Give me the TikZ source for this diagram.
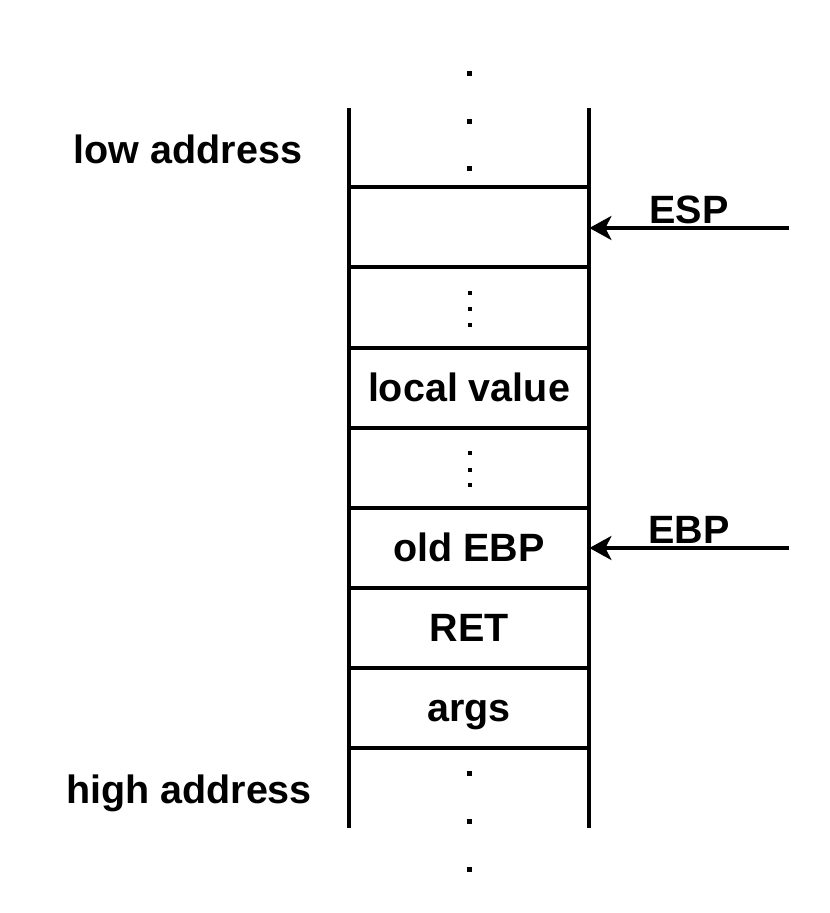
\documentclass[tikz,border=0pt]{standalone}
\usepackage{fontspec}
\setmainfont{Liberation Sans}
\usetikzlibrary{arrows.meta}

\begin{document}
\begin{tikzpicture}[
    x=0.5pt,y=-0.5pt,line/.style={line width=1.75pt, black},
    txt/.style={font=\bfseries\fontsize{19.75}{24}\selectfont, inner sep=0pt, text height=0.72em, text depth=0pt, yshift=-3pt},
    cell/.style={txt, minimum width=120pt, minimum height=40pt},
    ptr/.style={line, -{Stealth[length=11pt, width=12pt, inset=3pt]}}
    ]
    \useasboundingbox (0, 0) rectangle (829, 913);
    % stack cells
    \node[cell] (top) at (469, 227) {};
    \node[cell] (gapa) at (469, 307.5) {};
    \node[cell] (local) at (469, 388) {local value};
    \node[cell] (gapb) at (469, 468) {};
    \node[cell] (oldebp) at (469, 548) {old EBP};
    \node[cell] (ret) at (469, 628) {RET};
    \node[cell] (args) at (469, 708) {args};
    % walls and separators
    \draw[line] (349, 108) -- (349, 828);
    \draw[line] (589, 108) -- (589, 828);
    \draw[line] (349, 187) -- (589, 187);
    \draw[line] (349, 267) -- (589, 267);
    \draw[line] (349, 348) -- (589, 348);
    \draw[line] (349, 428) -- (589, 428);
    \draw[line] (349, 508) -- (589, 508);
    \draw[line] (349, 588) -- (589, 588);
    \draw[line] (349, 668) -- (589, 668);
    \draw[line] (349, 748) -- (589, 748);
    % dots
    \fill (467, 71) rectangle (472, 76);
    \fill (467, 119) rectangle (472, 124);
    \fill (467, 166) rectangle (472, 171);
    \fill (467, 771) rectangle (472, 776);
    \fill (467, 819) rectangle (472, 824);
    \fill (467, 867) rectangle (472, 872);
    \fill (467.5, 291) rectangle (471.5, 295);
    \fill (467.5, 307.5) rectangle (471.5, 311.5);
    \fill (467.5, 323) rectangle (471.5, 327);
    \fill (467.5, 451) rectangle (471.5, 455);
    \fill (467.5, 467.5) rectangle (471.5, 471.5);
    \fill (467.5, 483) rectangle (471.5, 487);
    % addresses
    \node[txt] (low) at (188, 150) {low address};
    \node[txt] (high) at (189, 790) {high address};
    % pointers
    \coordinate (espin) at (789, 228);
    \coordinate (ebpin) at (789, 548);
    \node[txt] (esplbl) at (689, 210) {ESP};
    \node[txt] (ebplbl) at (689, 530) {EBP};
    \draw[ptr] (espin) -- (espin -| top.east);
    \draw[ptr] (ebpin) -- (ebpin -| oldebp.east);
\end{tikzpicture}
\end{document}
